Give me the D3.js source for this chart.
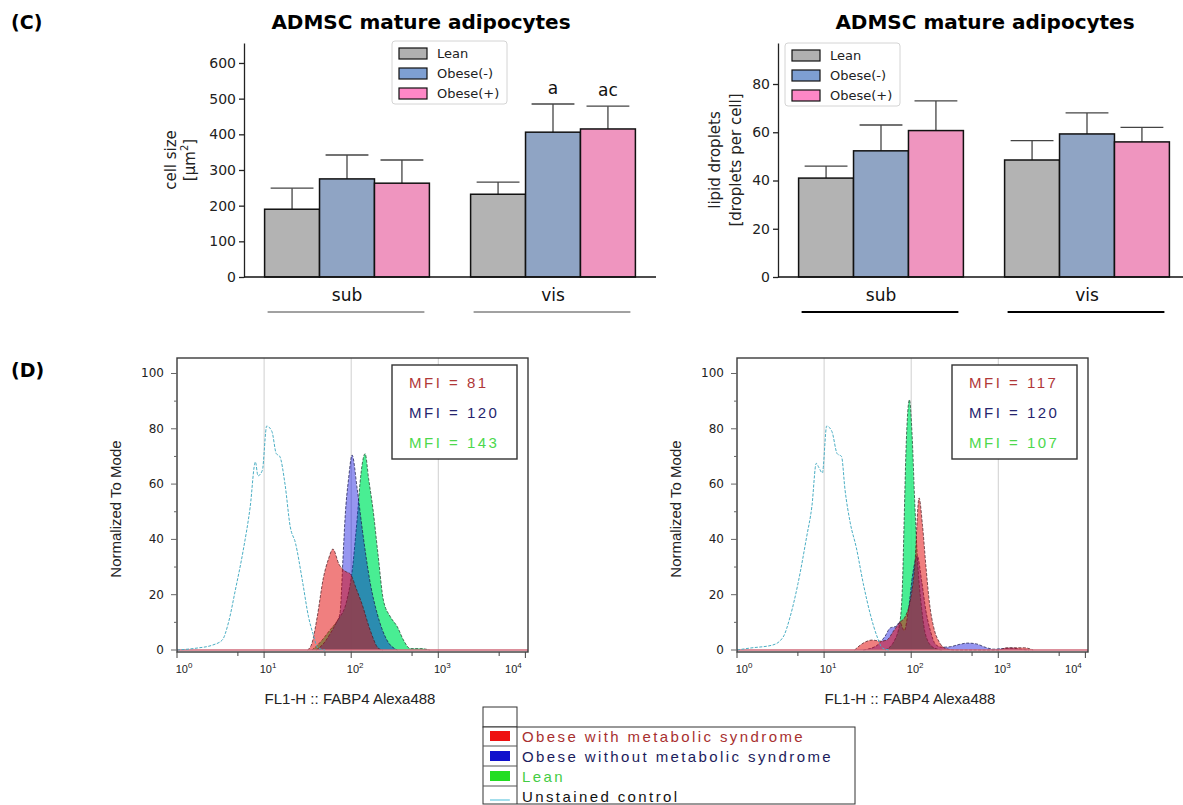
<!DOCTYPE html>
<html lang="en">
<head>
<meta charset="UTF-8">
<title>ADMSC mature adipocytes</title>
<script src="https://d3js.org/d3.v7.min.js"></script>
<style>
  body { margin: 0; background: #fff; }
  text { font-family: "DejaVu Sans", sans-serif; }
  .flow text { font-family: "Liberation Sans", Arial, sans-serif; }
</style>
</head>
<body>
<div id="fig"></div>
<script>
// ---------- panel C: bar charts ----------
var groups = ["sub", "vis"];
var seriesNames = ["Lean", "Obese(-)", "Obese(+)"];
var cellSizeMeans = [[190, 275, 263], [232, 406, 415]];
var cellSizeErr = [[59, 67, 65], [34, 79, 64]];
var cellSizeLetters = [["", "", ""], ["", "a", "ac"]];
var cellSizeTicks = [0, 100, 200, 300, 400, 500, 600];
var dropletMeans = [[41, 52.3, 60.7], [48.5, 59.3, 56]];
var dropletErr = [[5, 10.7, 12.3], [8, 8.7, 6]];
var dropletTicks = [0, 20, 40, 60, 80];

// ---------- panel D: flow histograms, [log10 FL1-H, % of mode] ----------
var leftUnstained = [[0.00,0],[0.23,0.7],[0.41,1.8],[0.52,3.6],[0.59,9.8],[0.67,21.7],[0.76,36],[0.84,51.7],[0.90,68],[0.93,63],[0.98,65],[1.03,81],[1.09,79],[1.14,71],[1.18,70],[1.24,60],[1.30,44.6],[1.36,38.7],[1.44,25],[1.51,12],[1.56,6],[1.62,0.7],[1.70,0]];
var leftLean = [[1.55,0],[1.65,3],[1.75,7],[1.85,11],[1.95,18],[2.02,31],[2.05,41],[2.07,48],[2.10,60],[2.16,71],[2.20,62],[2.25,51],[2.31,34],[2.37,18],[2.45,12],[2.53,8.4],[2.60,3.6],[2.68,0.5],[2.80,0.5],[2.90,0]];
var leftObeseNoMS = [[1.60,0],[1.70,3],[1.76,6],[1.83,10],[1.87,13],[1.91,36],[1.93,48],[1.97,62],[2.01,70.5],[2.07,58],[2.13,43],[2.22,24],[2.30,13],[2.41,3.6],[2.53,0]];
var leftObeseMS = [[1.50,0],[1.55,2.5],[1.61,12],[1.68,26],[1.74,33],[1.79,36.5],[1.86,31],[1.93,28.5],[1.99,27.5],[2.06,22],[2.12,17],[2.22,7],[2.31,0.7],[2.36,0]];
var leftMFI = [81, 120, 143];

var rightUnstained = [[0.00,0],[0.15,0.7],[0.41,1.8],[0.53,4.7],[0.61,12],[0.70,24],[0.80,41],[0.86,52],[0.91,67.5],[0.94,66],[0.98,64],[1.03,81],[1.09,79],[1.15,71],[1.20,70],[1.24,58],[1.30,46],[1.37,37],[1.45,24],[1.53,13],[1.61,4.7],[1.67,0.7],[1.75,0]];
var rightLean = [[1.70,0],[1.80,3],[1.87,10],[1.90,24],[1.92,48],[1.94,72],[1.98,90.5],[2.01,78],[2.04,54],[2.07,34],[2.12,15],[2.17,5],[2.25,1],[2.35,0]];
var rightObeseNoMS = [[1.45,0],[1.60,1.5],[1.70,5],[1.76,8],[1.82,8.5],[1.87,10],[1.92,7],[1.97,15],[2.02,28],[2.07,34],[2.12,25],[2.17,14],[2.22,7],[2.28,2],[2.35,1],[2.45,1.2],[2.55,2],[2.65,2.5],[2.75,2.2],[2.85,1],[2.95,0.3],[3.05,0.5],[3.15,0.7],[3.25,0.3],[3.35,0]];
var rightObeseMS = [[1.35,0],[1.45,2.5],[1.55,3.6],[1.65,3.2],[1.72,3.6],[1.80,7],[1.87,10],[1.93,12],[1.99,18],[2.04,30],[2.09,55],[2.13,45],[2.17,30],[2.21,17],[2.26,8],[2.32,3],[2.40,0.5],[2.50,0],[3.00,0],[3.10,0.8],[3.30,0.8],[3.40,0]];
var rightMFI = [117, 120, 107];

var histYTicks = [0, 20, 40, 60, 80, 100];
var decades = [0, 1, 2, 3, 4];
var legendLabels = ["Obese with metabolic syndrome", "Obese without metabolic syndrome", "Lean", "Unstained control"];

// styles
var barColors = ["#b3b3b3", "#8fa4c4", "#ef95bf"];
var swatchColors = ["#b0b0b0", "#7e9fd2", "#fd87c6"];
var mfiColors = ["#b03838", "#25256e", "#4cd84c"];   // MS, noMS, lean
var legendTextColors = ["#a83030", "#1c1c5c", "#44cc44", "#111"];

var W = 1183, H = 805;
var svg = d3.select("#fig").append("svg")
    .attr("width", W).attr("height", H)
    .style("background", "#fff");

// panel letters
svg.append("text").attr("x", 11).attr("y", 29).text("(C)")
    .style("font-size", "19px").style("font-weight", "bold");
svg.append("text").attr("x", 11).attr("y", 377).text("(D)")
    .style("font-size", "19px").style("font-weight", "bold");

function barChart(o) {
    var g = svg.append("g");
    var y = d3.scaleLinear().domain([0, o.yMax]).range([277, 43]);
    var x0 = d3.scaleBand().domain(groups).range(o.xRange).paddingInner(0.2).paddingOuter(0.1);
    var x1 = d3.scaleBand().domain(seriesNames).range([0, x0.bandwidth()]);

    g.append("text").attr("x", o.titleX).attr("y", 29).attr("text-anchor", "middle")
        .text("ADMSC mature adipocytes")
        .style("font-size", "20px").style("font-weight", "bold");

    // y axis
    var ya = g.append("g").attr("transform", "translate(" + o.xRange[0] + ",0)")
        .call(d3.axisLeft(y).tickValues(o.ticks).tickSize(5).tickSizeOuter(0).tickPadding(3));
    ya.select(".domain").attr("stroke", "#222").attr("stroke-width", 1.3);
    ya.selectAll(".tick line").attr("stroke", "#222").attr("stroke-width", 1.3);
    ya.selectAll(".tick text").style("font-size", "14px").attr("fill", "#222")
        .style("font-family", "DejaVu Sans");

    // bars
    groups.forEach(function (grp, gi) {
        seriesNames.forEach(function (s, si) {
            var m = o.means[gi][si], e = o.err[gi][si];
            var bx = x0(grp) + x1(s), bw = x1.bandwidth(), cx = bx + bw / 2;
            g.append("line").attr("x1", cx).attr("x2", cx)
                .attr("y1", y(m)).attr("y2", y(m + e))
                .attr("stroke", "#444").attr("stroke-width", 1.3);
            g.append("line").attr("x1", cx - bw * 0.39).attr("x2", cx + bw * 0.39)
                .attr("y1", y(m + e)).attr("y2", y(m + e))
                .attr("stroke", "#444").attr("stroke-width", 1.3);
            g.append("rect").attr("x", bx).attr("width", bw)
                .attr("y", y(m)).attr("height", y(0) - y(m))
                .attr("fill", barColors[si]).attr("stroke", "#111").attr("stroke-width", 1.5);
            if (o.letters && o.letters[gi][si]) {
                g.append("text").attr("x", cx).attr("y", y(m + e) - 10)
                    .attr("text-anchor", "middle").text(o.letters[gi][si])
                    .style("font-size", "17px").attr("fill", "#111");
            }
        });
        // group label and underline
        g.append("text").attr("x", x0(grp) + x0.bandwidth() / 2).attr("y", 301)
            .attr("text-anchor", "middle").text(grp)
            .style("font-size", "17px").attr("fill", "#111");
        g.append("line").attr("x1", x0(grp) + 3).attr("x2", x0(grp) + x0.bandwidth() - 5)
            .attr("y1", 312).attr("y2", 312)
            .attr("stroke", o.ulColor).attr("stroke-width", o.ulWidth);
    });

    // x axis line
    g.append("line").attr("x1", o.xRange[0]).attr("x2", o.xRange[1])
        .attr("y1", y(0)).attr("y2", y(0)).attr("stroke", "#111").attr("stroke-width", 1.6);

    // y label (two lines)
    o.yLabel.forEach(function (lab, i) {
        var t = g.append("text")
            .attr("transform", "translate(" + o.yLabelX[i] + ",160) rotate(-90)")
            .attr("text-anchor", "middle").attr("dominant-baseline", "central")
            .style("font-size", "15px").attr("fill", "#222");
        if (lab === "um2") {
            t.append("tspan").text("[\u03bcm");
            t.append("tspan").text("2").style("font-size", "10px").attr("dy", -6);
            t.append("tspan").text("]").attr("dy", 6);
        } else {
            t.text(lab);
        }
    });

    // legend
    var lg = g.append("g").attr("transform", "translate(" + o.leg[0] + "," + o.leg[1] + ")");
    lg.append("rect").attr("width", 115).attr("height", 63).attr("rx", 3)
        .attr("fill", "#fff").attr("stroke", "#d4d4d4");
    seriesNames.forEach(function (s, i) {
        lg.append("rect").attr("x", 7).attr("y", 7 + i * 20).attr("width", 28).attr("height", 11)
            .attr("fill", swatchColors[i]).attr("stroke", "#111").attr("stroke-width", 1.2);
        lg.append("text").attr("x", 45).attr("y", 12.5 + i * 20)
            .attr("dominant-baseline", "central").text(s)
            .style("font-size", "13px").attr("fill", "#222");
    });
}

barChart({
    means: cellSizeMeans, err: cellSizeErr, letters: cellSizeLetters,
    ticks: cellSizeTicks, yMax: 656, xRange: [244, 656], titleX: 421,
    yLabel: ["cell size", "um2"], yLabelX: [171, 190],
    leg: [392, 41], ulColor: "#444", ulWidth: 1
});
barChart({
    means: dropletMeans, err: dropletErr, letters: null,
    ticks: dropletTicks, yMax: 97, xRange: [778, 1190], titleX: 985,
    yLabel: ["lipid droplets", "[droplets per cell]"], yLabelX: [715, 736],
    leg: [785, 43], ulColor: "#000", ulWidth: 2
});

// ---------- histograms ----------
function histogram(o) {
    var g = svg.append("g").attr("class", "flow");
    var L = o.left, R = o.left + 351, T = 358, B = 652;
    var x = d3.scaleLog().domain([1, Math.pow(10, 4.03)]).range([L, R]);
    var y = d3.scaleLinear().domain([0, 105.6]).range([650, T]);

    // vertical grid at decades
    [10, 100, 1000].forEach(function (v) {
        g.append("line").attr("x1", x(v)).attr("x2", x(v)).attr("y1", T).attr("y2", B)
            .attr("stroke", "#cfcfcf").attr("stroke-width", 1);
    });

    var area = d3.area().curve(d3.curveMonotoneX)
        .x(function (d) { return x(Math.pow(10, d[0])); })
        .y0(y(0)).y1(function (d) { return y(d[1]); });
    var line = d3.line().curve(d3.curveMonotoneX)
        .x(function (d) { return x(Math.pow(10, d[0])); })
        .y(function (d) { return y(d[1]); });

    var filled = [
        { data: o.lean, fill: "#30ec84", op: 0.88, stroke: "#1f3a2a" },
        { data: o.noMS, fill: "#0000da", op: 0.41, stroke: "#16164a" },
        { data: o.ms, fill: "#e10000", op: 0.5, stroke: "#4a1a22" }
    ];
    filled.forEach(function (c) {
        g.append("path").attr("d", area(c.data))
            .attr("fill", c.fill).attr("fill-opacity", c.op);
        g.append("path").attr("d", line(c.data)).attr("fill", "none")
            .attr("stroke", c.stroke).attr("stroke-width", 0.9)
            .attr("stroke-dasharray", "3,1.5").attr("opacity", 0.8);
    });
    // baseline
    g.append("line").attr("x1", L).attr("x2", R).attr("y1", y(0)).attr("y2", y(0))
        .attr("stroke", "#d06a7a").attr("stroke-width", 1.4);
    // unstained control
    g.append("path").attr("d", line(o.unstained)).attr("fill", "none")
        .attr("stroke", "#4aaec4").attr("stroke-width", 1)
        .attr("stroke-dasharray", "3,1.5");

    // frame
    g.append("rect").attr("x", L).attr("y", T).attr("width", R - L).attr("height", B - T)
        .attr("fill", "none").attr("stroke", "#3a3a3a").attr("stroke-width", 1.4);

    // y ticks
    d3.range(0, 101, 10).forEach(function (v) {
        var major = v % 20 === 0;
        g.append("line").attr("x1", L - (major ? 6 : 3)).attr("x2", L)
            .attr("y1", y(v)).attr("y2", y(v)).attr("stroke", "#666").attr("stroke-width", 1);
    });
    histYTicks.forEach(function (v) {
        g.append("text").attr("x", L - 13).attr("y", y(v))
            .attr("text-anchor", "end").attr("dominant-baseline", "central")
            .text(v).style("font-size", "12px").style("font-family", "DejaVu Sans")
            .attr("fill", "#222");
    });

    // x ticks
    var labelShift = [7, 4, 4, 4, -12];
    decades.forEach(function (d, i) {
        var v = Math.pow(10, d);
        g.append("line").attr("x1", x(v)).attr("x2", x(v)).attr("y1", B).attr("y2", B + 6)
            .attr("stroke", "#444");
        if (d < 4) {
            g.append("line").attr("x1", x(5 * v)).attr("x2", x(5 * v)).attr("y1", B).attr("y2", B + 4)
                .attr("stroke", "#444");
        }
        var t = g.append("text").attr("x", x(v) + labelShift[i]).attr("y", 673)
            .attr("text-anchor", "middle").style("font-size", "11px").attr("fill", "#222");
        t.append("tspan").text("10");
        t.append("tspan").text(d).attr("dy", -5).style("font-size", "8px");
    });

    // axis titles
    g.append("text").attr("x", L + 173).attr("y", 698)
        .attr("text-anchor", "middle").attr("dominant-baseline", "central")
        .text("FL1-H :: FABP4 Alexa488").style("font-size", "15px").attr("fill", "#222");
    g.append("text").attr("transform", "translate(" + (L - 62) + ",509) rotate(-90)")
        .attr("text-anchor", "middle").attr("dominant-baseline", "central")
        .text("Normalized To Mode").style("font-size", "15px").attr("fill", "#222");

    // MFI box
    var bx = L + 215;
    g.append("rect").attr("x", bx).attr("y", 365).attr("width", 125).attr("height", 94)
        .attr("fill", "#fff").attr("stroke", "#333").attr("stroke-width", 1.4);
    o.mfi.forEach(function (m, i) {
        g.append("text").attr("x", bx + 17).attr("y", 382 + i * 30)
            .attr("dominant-baseline", "central").attr("letter-spacing", 2.5)
            .text("MFI = " + m).style("font-size", "15px").attr("fill", mfiColors[i]);
    });
}

histogram({ left: 177, unstained: leftUnstained, lean: leftLean, noMS: leftObeseNoMS, ms: leftObeseMS, mfi: leftMFI });
histogram({ left: 737, unstained: rightUnstained, lean: rightLean, noMS: rightObeseNoMS, ms: rightObeseMS, mfi: rightMFI });

// ---------- bottom legend ----------
var leg = svg.append("g").attr("class", "flow");
leg.append("rect").attr("x", 483).attr("y", 707).attr("width", 34).attr("height", 20)
    .attr("fill", "#fff").attr("stroke", "#333");
leg.append("rect").attr("x", 483).attr("y", 727).attr("width", 372).attr("height", 77)
    .attr("fill", "#fff").attr("stroke", "#333");
leg.append("line").attr("x1", 517).attr("x2", 517).attr("y1", 727).attr("y2", 804).attr("stroke", "#333");
[746, 766, 786].forEach(function (yy) {
    leg.append("line").attr("x1", 483).attr("x2", 517).attr("y1", yy).attr("y2", yy).attr("stroke", "#555");
});
var swFill = ["#ee1111", "#1010cc", "#22dd22"];
legendLabels.forEach(function (lab, i) {
    var cy = 736 + i * 20;
    if (i < 3) {
        leg.append("rect").attr("x", 490).attr("y", cy - 5).attr("width", 20).attr("height", 10)
            .attr("fill", swFill[i]);
    } else {
        leg.append("line").attr("x1", 490).attr("x2", 510).attr("y1", cy + 4).attr("y2", cy + 4)
            .attr("stroke", "#66c8e0").attr("stroke-width", 1.2);
    }
    leg.append("text").attr("x", 522).attr("y", cy)
        .attr("dominant-baseline", "central").attr("letter-spacing", 2.4)
        .text(lab).style("font-size", "15px").attr("fill", legendTextColors[i]);
});
</script>
</body>
</html>
